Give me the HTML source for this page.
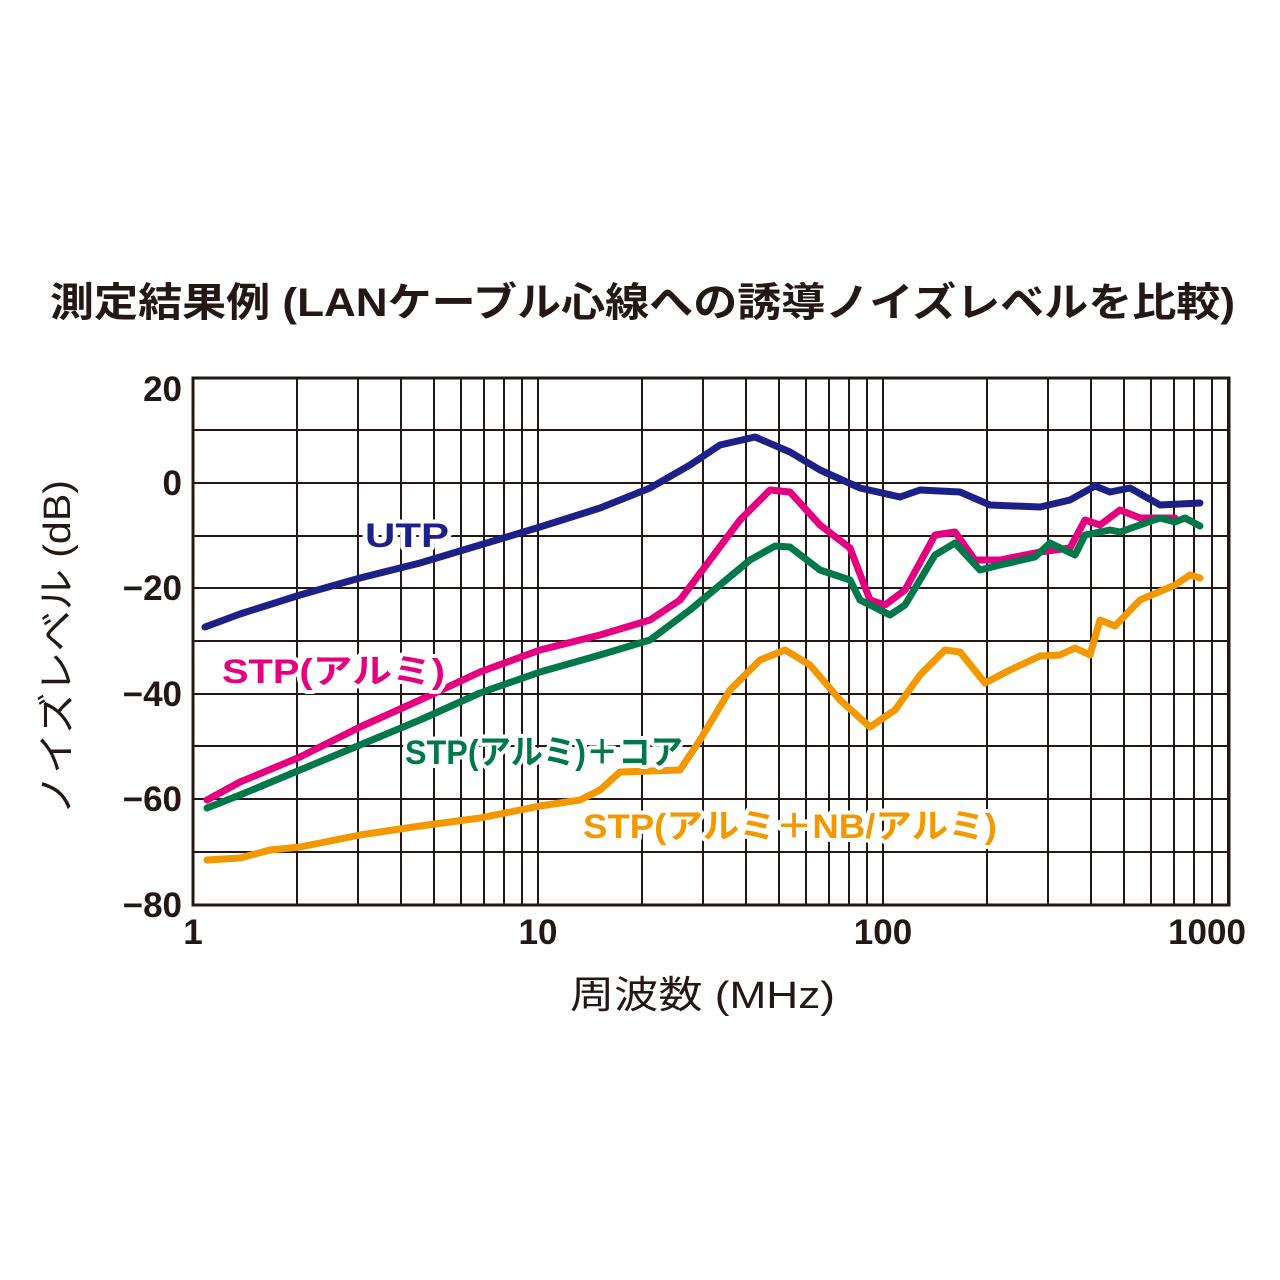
<!DOCTYPE html>
<html><head><meta charset="utf-8"><style>html,body{margin:0;padding:0;background:#fff}svg{display:block}</style></head>
<body>
<svg width="1280" height="1280" viewBox="0 0 1280 1280" xmlns="http://www.w3.org/2000/svg" font-family="'Liberation Sans','Noto Sans CJK JP',sans-serif">
<rect width="1280" height="1280" fill="#fff"/>
<text x="50" y="316" font-size="40" font-weight="bold" fill="#231815" textLength="1185" lengthAdjust="spacingAndGlyphs">測定結果例 (LANケーブル心線への誘導ノイズレベルを比較)</text>
<g stroke="#231815" stroke-width="2" fill="none">
<rect x="193" y="378" width="1036" height="527" stroke-width="3"/>
<g id="dec">
<line x1="297" y1="378" x2="297" y2="905"/><line x1="358" y1="378" x2="358" y2="905"/><line x1="401" y1="378" x2="401" y2="905"/><line x1="434" y1="378" x2="434" y2="905"/><line x1="461" y1="378" x2="461" y2="905"/><line x1="484" y1="378" x2="484" y2="905"/><line x1="504" y1="378" x2="504" y2="905"/><line x1="522" y1="378" x2="522" y2="905"/><line x1="538" y1="378" x2="538" y2="905"/>
</g>
<use href="#dec" x="345"/><use href="#dec" x="690"/>
<line x1="193" y1="430" x2="1229" y2="430"/><line x1="193" y1="483" x2="1229" y2="483"/><line x1="193" y1="536" x2="1229" y2="536"/><line x1="193" y1="588" x2="1229" y2="588"/><line x1="193" y1="641" x2="1229" y2="641"/><line x1="193" y1="694" x2="1229" y2="694"/><line x1="193" y1="746" x2="1229" y2="746"/><line x1="193" y1="799" x2="1229" y2="799"/><line x1="193" y1="852" x2="1229" y2="852"/>
</g>
<g font-size="35" fill="#231815" text-anchor="end" font-weight="bold">
<text x="182" y="401">20</text><text x="182" y="495">0</text><text x="182" y="600">−20</text><text x="182" y="706">−40</text><text x="182" y="811">−60</text><text x="182" y="917">−80</text>
</g>
<g font-size="35" fill="#231815" text-anchor="middle" font-weight="bold">
<text x="193" y="944">1</text><text x="538" y="944">10</text><text x="883" y="944">100</text><text x="1207" y="944">1000</text>
</g>
<text x="570" y="1008" font-size="38" fill="#231815" textLength="265" lengthAdjust="spacingAndGlyphs">周波数 (MHz)</text>
<text transform="translate(70,815) rotate(-90)" font-size="38" fill="#231815" textLength="335" lengthAdjust="spacingAndGlyphs">ノイズレベル (dB)</text>
<g fill="none" stroke-width="7" stroke-linejoin="round" stroke-linecap="round">
<polyline stroke="#1d2087" points="205,627 240,614 300,595 360,578 420,563 480,545 540,527 600,508 650,488 690,465 720,445 755,437 790,452 820,470 860,488 900,497 920,490 960,492 990,505 1040,507 1070,500 1095,486 1110,492 1130,488 1160,505 1200,503"/>
<polyline stroke="#e4007f" points="207,800 240,782 300,757 360,727 420,700 480,672 540,650 600,635 650,620 680,600 710,560 740,520 770,490 790,492 820,525 850,548 870,600 885,605 905,590 935,535 955,532 975,560 1000,560 1040,552 1070,548 1085,520 1100,525 1120,510 1140,518 1175,518"/>
<polyline stroke="#00784a" points="207,808 240,795 300,770 360,745 420,720 480,693 540,672 600,655 650,640 690,610 720,585 750,560 775,546 790,547 820,570 850,580 860,600 890,615 905,605 935,555 955,543 980,570 1000,565 1035,557 1050,543 1075,555 1085,535 1110,530 1120,532 1160,518 1175,522 1185,518 1200,526"/>
<polyline stroke="#f39800" points="207,860 240,858 270,850 300,847 360,835 420,826 480,818 540,806 580,800 600,790 620,772 680,770 700,740 730,690 760,660 785,650 810,665 840,700 870,727 895,710 920,675 945,650 960,652 985,683 1010,670 1040,656 1060,655 1075,648 1090,655 1100,620 1115,626 1140,600 1175,585 1190,575 1200,578"/>
</g>
<g font-size="34" font-weight="bold" stroke="#fff" stroke-width="8" paint-order="stroke" stroke-linejoin="round" lengthAdjust="spacingAndGlyphs">
<text x="365" y="547" fill="#1d2087" textLength="84" lengthAdjust="spacingAndGlyphs">UTP</text>
<text x="222" y="683" fill="#e4007f" textLength="223" lengthAdjust="spacingAndGlyphs">STP(アルミ)</text>
<text x="405" y="764" fill="#00784a" textLength="278" lengthAdjust="spacingAndGlyphs">STP(アルミ)＋コア</text>
<text x="583" y="838" fill="#f39800" textLength="414" lengthAdjust="spacingAndGlyphs">STP(アルミ＋NB/アルミ)</text>
</g>
</svg>
</body></html>
